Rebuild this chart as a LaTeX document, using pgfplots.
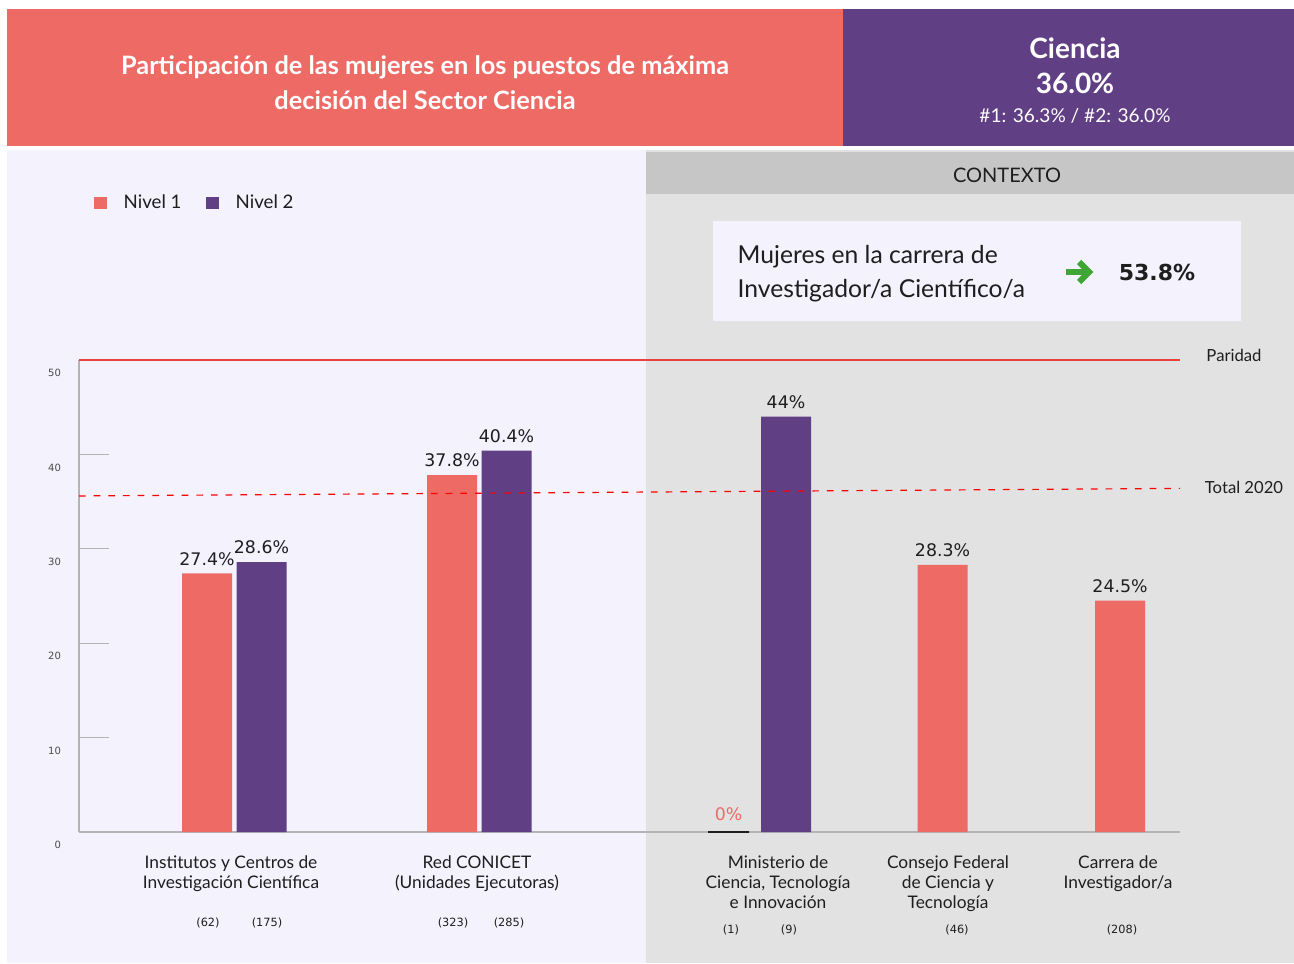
\documentclass[border=0pt]{standalone}
\usepackage{fontspec}
\setmainfont{Lato}
\newfontfamily\dejavu{DejaVu Sans}
\usepackage{pgfplots}
\pgfplotsset{compat=1.18}
\definecolor{coral}{HTML}{EE6A65}
\definecolor{purp}{HTML}{613F85}
\definecolor{leftbg}{HTML}{F3F2FD}
\definecolor{rightbg}{HTML}{E2E2E2}
\definecolor{ctxbg}{HTML}{C6C6C6}
\definecolor{parid}{HTML}{E8413E}
\definecolor{arrowg}{HTML}{3FA535}
\definecolor{axgray}{HTML}{B4B4B4}
\definecolor{txt}{HTML}{1E1E1E}
\begin{document}
\begin{tikzpicture}
\begin{scope}[x=0.75pt,y=-0.75pt]
\fill[white] (0,0) rectangle (1294,963);
% header
\fill[coral] (7,9) rectangle (843,146);
\fill[purp] (843,9) rectangle (1294,146);
\node[white, font=\fontsize{19}{26.5}\selectfont\bfseries, align=center] at (425,82.5)
  {Participación de las mujeres en los puestos de máxima\\decisión del Sector Ciencia};
\node[white, font=\fontsize{21}{22}\selectfont\bfseries] at (1075,48) {Ciencia};
\node[white, font=\fontsize{21}{22}\selectfont\bfseries] at (1075,83) {36.0\%};
\node[white, font=\fontsize{14.3}{15}\selectfont] at (1075,116) {\#1: 36.3\% / \#2: 36.0\%};
% panels
\fill[leftbg] (7,150) rectangle (646,963);
\fill[rightbg] (646,150) rectangle (1294,963);
\fill[ctxbg] (646,152) rectangle (1294,194);
\node[txt, font=\fontsize{15}{16}\selectfont] at (1007,175) {CONTEXTO};
\fill[leftbg] (713,221) rectangle (1241,321);
\node[txt, font=\fontsize{18.5}{25.5}\selectfont, align=left, anchor=west] at (733,274)
  {Mujeres en la carrera de\\Investigador/a Científico/a};
\draw[arrowg, line width=4.5pt] (1066,272) -- (1088,272);
\draw[arrowg, line width=4.5pt, miter limit=10] (1079,262) -- (1089,272) -- (1079,282);
\node[txt, font=\fontsize{16.5}{18}\selectfont\bfseries\dejavu] at (1157,272) {53.8\%};
% right labels
\node[txt, font=\fontsize{12.5}{14}\selectfont] at (1234,355) {Paridad};
\node[txt, font=\fontsize{12.5}{14}\selectfont] at (1244,487) {Total 2020};
% category labels
\begin{scope}[every node/.style={txt, font=\fontsize{13}{15}\selectfont, align=center, anchor=north}]
\node at (231,851) {Institutos y Centros de\\Investigación Científica};
\node at (477,851) {Red CONICET\\(Unidades Ejecutoras)};
\node at (778,851) {Ministerio de\\Ciencia, Tecnología\\e Innovación};
\node at (948,851) {Consejo Federal\\de Ciencia y\\Tecnología};
\node at (1118,851) {Carrera de\\Investigador/a};
\end{scope}
\begin{scope}[every node/.style={txt, font=\fontsize{8.5}{10}\selectfont\dejavu}]
\node at (208,923) {(62)};
\node at (267,923) {(175)};
\node at (453,923) {(323)};
\node at (509,923) {(285)};
\node at (731,930) {(1)};
\node at (789,930) {(9)};
\node at (957,930) {(46)};
\node at (1122,930) {(208)};
\end{scope}
\end{scope}
\begin{axis}[
  at={(59.25pt,-624pt)}, anchor=south west,
  scale only axis, width=825.75pt, height=354pt,
  xmin=79, xmax=1180, ymin=0, ymax=50,
  axis x line*=bottom, axis y line*=left,
  axis line style={axgray, line width=0.9pt},
  xtick=\empty,
  ytick={0,10,20,30,40,50},
  tick align=inside,
  major tick length=22.5pt,
  ytick style={axgray, line width=0.7pt},
  yticklabel style={font=\fontsize{7.5}{8}\selectfont\dejavu, text=txt!80, xshift=-10pt, yshift=-9.75pt},
  /pgf/number format/assume math mode=true,
  clip=false,
  legend style={at={(rel axis cs:0.010,1.361)}, anchor=north west, draw=none, fill=none,
    font=\fontsize{14}{15}\selectfont, text=txt, legend columns=2,
    /tikz/every odd column/.append style={column sep=10.5pt},
    /tikz/every even column/.append style={column sep=16.5pt}},
  legend image code/.code={\fill[#1] (0pt,-4.8pt) rectangle (9.6pt,4.8pt);},
  nodes near coords={\pgfmathprintnumber[fixed,precision=1]{\pgfplotspointmeta}\%},
  every node near coord/.append style={font=\fontsize{13}{14}\selectfont\dejavu, text=txt, yshift=2.5pt},
]
\addplot[ybar, bar width=50, bar shift=0pt, fill=coral, draw=none] coordinates {(207,27.4) (452,37.8) (942.5,28.3) (1120,24.5)};
\addlegendentry{Nivel 1}
\addplot[ybar, bar width=50, bar shift=0pt, fill=purp, draw=none] coordinates {(261.5,28.6) (506.5,40.4) (786,44)};
\addlegendentry{Nivel 2}
\addplot[ybar, bar width=41, bar shift=0pt, fill=txt, draw=txt, line width=1.5pt, forget plot,
  every node near coord/.append style={text=coral, yshift=2pt}] coordinates {(728.5,0)};
\addplot[parid, line width=1.2pt, forget plot, nodes near coords={}] coordinates {(79,50) (1180,50)};
\addplot[red, line width=0.9pt, dash pattern=on 5pt off 6pt, forget plot, nodes near coords={}] coordinates {(79,35.6) (1180,36.4)};
\end{axis}
\end{tikzpicture}
\end{document}
